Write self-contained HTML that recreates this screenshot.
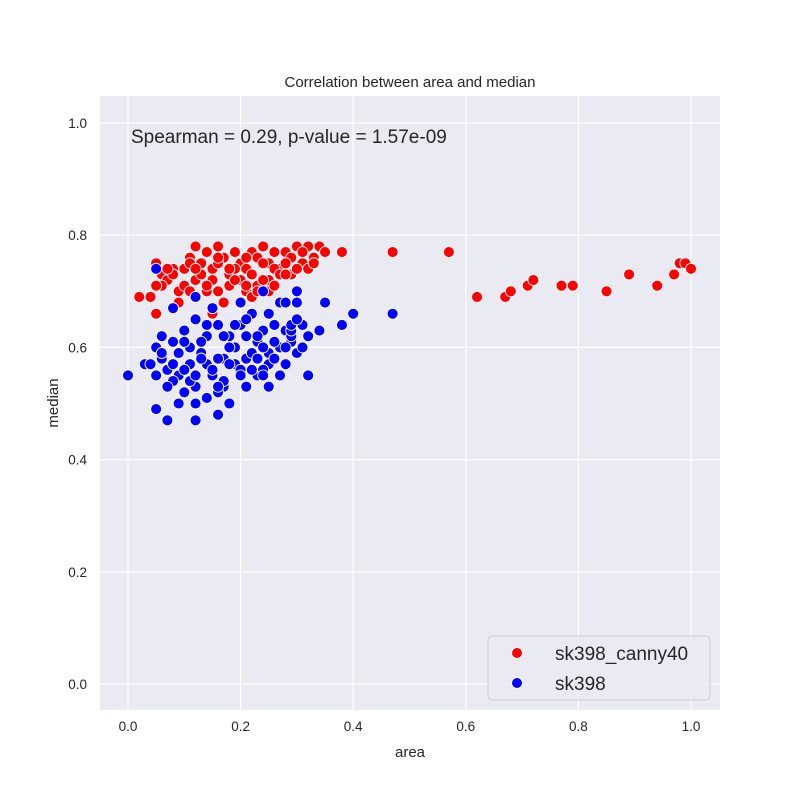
<!DOCTYPE html>
<html><head><meta charset="utf-8"><style>
body{margin:0;background:#fff;}
svg{font-family:"Liberation Sans",sans-serif;}
</style></head><body>
<svg id="chart" width="800" height="800" xmlns="http://www.w3.org/2000/svg">
<rect x="0" y="0" width="800" height="800" fill="#fff"/>
<rect x="100" y="96" width="620" height="614" fill="#eaeaf2"/>
<g id="grid"></g>
<g id="ticks"></g>
<g id="points"></g>
<text x="410" y="87" text-anchor="middle" font-size="15" fill="#262626">Correlation between area and median</text>
<text x="410" y="757" text-anchor="middle" font-size="15" fill="#262626">area</text>
<text x="58" y="403" text-anchor="middle" font-size="15" fill="#262626" transform="rotate(-90 58 403)">median</text>
<text x="131" y="143" font-size="19" fill="#262626">Spearman = 0.29, p-value = 1.57e-09</text>
<g>
<rect x="488" y="636" width="222" height="64" rx="4" fill="#eaeaf2" fill-opacity="0.8" stroke="#ccc"/>
<circle cx="517" cy="653" r="5.5" fill="red" stroke="#fff"/>
<text x="555" y="660" font-size="19" fill="#262626">sk398_canny40</text>
<circle cx="517" cy="683" r="5.5" fill="blue" stroke="#fff"/>
<text x="555" y="690" font-size="19" fill="#262626">sk398</text>
</g>
</svg>
<script>
const xTicks=[0.0,0.2,0.4,0.6,0.8,1.0];
const yTicks=[0.0,0.2,0.4,0.6,0.8,1.0];
const redX=[0.38,0.47,0.57,0.62,0.67,0.68,0.71,0.72,0.77,0.79,0.85,0.89,0.94,0.97,0.98,0.99,1.0,0.02,0.05,0.04,
0.05,0.06,0.07,0.08,0.09,0.10,0.11,0.12,0.12,0.13,0.14,0.15,0.16,0.17,0.18,0.19,0.20,0.21,0.22,0.23,0.24,0.25,0.26,0.27,0.28,0.29,0.30,0.31,0.32,0.33,0.34,0.35,
0.06,0.08,0.10,0.11,0.13,0.14,0.15,0.16,0.18,0.19,0.20,0.21,0.22,0.23,0.24,0.25,0.26,0.27,0.28,0.29,0.30,0.31,0.32,0.33,
0.05,0.07,0.09,0.11,0.12,0.14,0.16,0.17,0.19,0.21,0.22,0.24,0.25,0.26,0.28,0.30,0.12,0.16,0.18,0.23,0.15,0.21];
const redY=[0.77,0.77,0.77,0.69,0.69,0.70,0.71,0.72,0.71,0.71,0.70,0.73,0.71,0.73,0.75,0.75,0.74,0.69,0.66,0.69,
0.75,0.73,0.72,0.74,0.70,0.74,0.76,0.78,0.72,0.75,0.77,0.74,0.78,0.76,0.73,0.77,0.75,0.74,0.77,0.76,0.78,0.75,0.77,0.74,0.77,0.76,0.78,0.75,0.78,0.76,0.78,0.77,
0.71,0.73,0.71,0.75,0.73,0.70,0.72,0.75,0.71,0.74,0.72,0.76,0.73,0.71,0.75,0.72,0.74,0.73,0.75,0.73,0.74,0.77,0.74,0.75,
0.71,0.74,0.68,0.70,0.69,0.71,0.70,0.68,0.72,0.70,0.69,0.72,0.70,0.71,0.73,0.74,0.74,0.76,0.74,0.70,0.66,0.71];
const blueX=[0.0,0.03,0.05,0.05,0.07,0.12,0.09,0.16,0.18,0.38,0.40,0.47,0.35,0.34,0.32,
0.04,0.05,0.06,0.07,0.08,0.09,0.10,0.11,0.12,0.13,0.14,0.15,0.16,0.17,0.18,0.19,0.20,0.21,0.22,0.23,0.24,0.25,0.26,0.27,0.28,0.29,0.30,0.31,0.32,
0.05,0.06,0.08,0.09,0.10,0.11,0.12,0.13,0.14,0.15,0.16,0.17,0.18,0.19,0.20,0.21,0.22,0.23,0.24,0.25,0.26,0.27,0.28,0.29,0.30,0.31,
0.06,0.07,0.08,0.10,0.11,0.12,0.13,0.14,0.15,0.16,0.17,0.18,0.20,0.21,0.22,0.23,0.24,0.25,0.26,0.28,0.29,0.30,
0.08,0.10,0.12,0.14,0.15,0.17,0.19,0.21,0.23,0.24,0.25,0.27,0.29,0.30,0.12,0.16,0.20,0.24,0.28,0.30];
const blueY=[0.55,0.57,0.74,0.49,0.47,0.47,0.50,0.48,0.50,0.64,0.66,0.66,0.68,0.63,0.55,
0.57,0.60,0.58,0.56,0.61,0.55,0.63,0.57,0.65,0.59,0.62,0.56,0.64,0.58,0.62,0.60,0.64,0.58,0.66,0.61,0.63,0.59,0.64,0.60,0.63,0.61,0.68,0.64,0.62,
0.55,0.62,0.54,0.59,0.56,0.60,0.53,0.61,0.57,0.55,0.58,0.53,0.60,0.57,0.56,0.62,0.59,0.55,0.60,0.57,0.61,0.55,0.60,0.62,0.59,0.60,
0.59,0.53,0.57,0.52,0.54,0.55,0.58,0.51,0.56,0.52,0.54,0.57,0.55,0.53,0.56,0.58,0.56,0.53,0.58,0.57,0.63,0.65,
0.67,0.61,0.69,0.64,0.67,0.62,0.64,0.65,0.62,0.70,0.66,0.68,0.64,0.70,0.50,0.53,0.68,0.55,0.68,0.65];
const NS="http://www.w3.org/2000/svg";
function xs(v){return 128+v*563;}
function ys(v){return 684-v*561;}
const grid=document.getElementById('grid'),ticks=document.getElementById('ticks'),pts=document.getElementById('points');
function mk(tag,attrs,parent){const e=document.createElementNS(NS,tag);for(const k in attrs)e.setAttribute(k,attrs[k]);parent.appendChild(e);return e;}
xTicks.forEach(t=>{
 const l=mk('line',{x1:xs(t),x2:xs(t),y1:96,y2:710,stroke:'#fff','stroke-width':1.2},grid);
 
 
 const tx=mk('text',{x:xs(t),y:731,'text-anchor':'middle','font-size':13.5,fill:'#262626'},ticks);
 tx.textContent=t.toFixed(1);
 
 
});
yTicks.forEach(t=>{
 const l=mk('line',{x1:100,x2:720,y1:ys(t),y2:ys(t),stroke:'#fff','stroke-width':1.2},grid);
 
 
 const tx=mk('text',{x:87,y:ys(t)+5,'text-anchor':'end','font-size':13.5,fill:'#262626'},ticks);
 tx.textContent=t.toFixed(1);
 
 
});
redX.forEach((v,i)=>{
 const c=mk('circle',{cx:xs(v),cy:ys(redY[i]),r:5.5,fill:'red',stroke:'#fff','stroke-width':0.9},pts);
 
 
});
blueX.forEach((v,i)=>{
 const c=mk('circle',{cx:xs(v),cy:ys(blueY[i]),r:5.5,fill:'blue',stroke:'#fff','stroke-width':0.9},pts);
 
 
});
</script>
</body></html>
